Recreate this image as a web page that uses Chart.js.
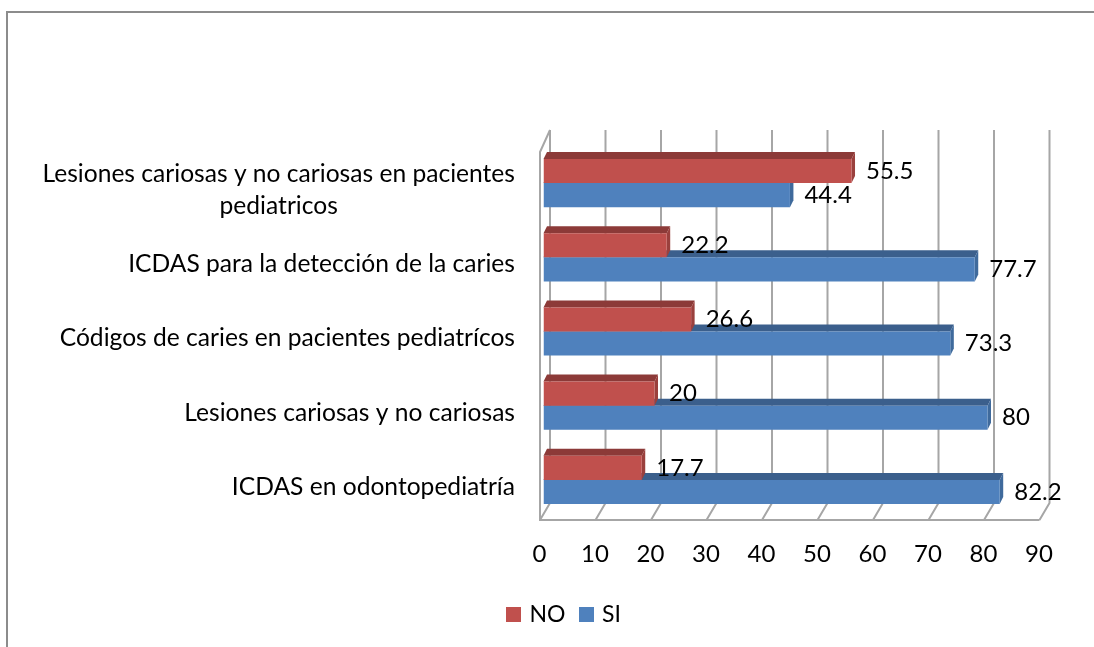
<!DOCTYPE html>
<html>
<head>
<meta charset="utf-8">
<script src="https://cdn.jsdelivr.net/npm/chart.js@4"></script>
<style>
  html, body { margin: 0; padding: 0; background: #fff; }
  #wrap { position: relative; width: 1094px; height: 647px; overflow: hidden; }
  #frame { position: absolute; left: 6px; top: 11px; right: 0; bottom: 0; border-left: 2px solid #8c8c8c; border-top: 2px solid #8c8c8c; }
  canvas { position: absolute; left: 0; top: 0; filter: blur(0.4px); }
</style>
</head>
<body>
<div id="wrap">
  <div id="frame"></div>
  <canvas id="chart" width="1094" height="647"></canvas>
</div>
<script>
const categories = [
  ["Lesiones cariosas y no cariosas en pacientes", "pediatricos"],
  "ICDAS para la detección de la caries",
  "Códigos de caries en pacientes pediatrícos",
  "Lesiones cariosas y no cariosas",
  "ICDAS en odontopediatría",
];
const noValues = [55.5, 22.2, 26.6, 20, 17.7];
const siValues = [44.4, 77.7, 73.3, 80, 82.2];

const FONT = "Lato";
const LABEL_SIZE = 24.6;
const VALUE_SIZE = 24;
const GRID = "#a6a6a6";
const RED = "#c0504d";
const BLUE = "#4f81bd";

// shifts used for the fake 3D box
const wall = { dx: 6.5, top: 130, floor: 503 };
const front = { dx: -3.5, top: 152, floor: 520 };
const bar3d = { dx: 3.5, dy: 7 };

const shades = [
  { top: "#8c3a38", side: "#9a403d" },
  { top: "#3b5f8c", side: "#3f6a9c" },
];

// legend square, drawn wider than its slot so the text sits close to it
const swatch = (color) => {
  const c = document.createElement("canvas");
  c.width = 15;
  c.height = 15;
  const g = c.getContext("2d");
  g.fillStyle = color;
  g.fillRect(0, 0, 15, 15);
  return c;
};

const box3d = {
  id: "box3d",
  beforeDatasetsDraw(chart) {
    const { ctx } = chart;
    const x = chart.scales.x;
    const x0 = x.getPixelForValue(0);
    const xEnd = x.getPixelForValue(90);
    ctx.save();
    ctx.strokeStyle = GRID;
    ctx.lineWidth = 2;
    x.ticks.forEach((t) => {
      const px = x.getPixelForValue(t.value);
      ctx.beginPath();
      ctx.moveTo(px + front.dx, front.floor);
      ctx.lineTo(px + wall.dx, wall.floor);
      ctx.lineTo(px + wall.dx, wall.top);
      ctx.stroke();
    });
    ctx.beginPath();
    ctx.moveTo(x0 + wall.dx, wall.top);
    ctx.lineTo(x0 + front.dx, front.top);
    ctx.lineTo(x0 + front.dx, front.floor);
    ctx.lineTo(xEnd + front.dx, front.floor);
    ctx.stroke();
    ctx.restore();
  },
  beforeDatasetDraw(chart, args) {
    const { ctx } = chart;
    const shade = shades[args.index];
    ctx.save();
    args.meta.data.forEach((bar) => {
      const top = bar.y - bar.height / 2;
      const bottom = bar.y + bar.height / 2;
      ctx.fillStyle = shade.top;
      ctx.beginPath();
      ctx.moveTo(bar.base, top);
      ctx.lineTo(bar.base + bar3d.dx, top - bar3d.dy);
      ctx.lineTo(bar.x + bar3d.dx, top - bar3d.dy);
      ctx.lineTo(bar.x, top);
      ctx.fill();
      ctx.fillStyle = shade.side;
      ctx.beginPath();
      ctx.moveTo(bar.x, top);
      ctx.lineTo(bar.x + bar3d.dx, top - bar3d.dy);
      ctx.lineTo(bar.x + bar3d.dx, bottom - bar3d.dy);
      ctx.lineTo(bar.x, bottom);
      ctx.fill();
    });
    ctx.restore();
  },
  afterDraw(chart) {
    const { ctx } = chart;
    const y = chart.scales.y;
    ctx.save();
    ctx.fillStyle = "#000";
    ctx.textBaseline = "middle";

    // category labels, wrapped lines centred under the first line
    ctx.font = LABEL_SIZE + "px " + FONT;
    ctx.textAlign = "center";
    categories.forEach((label, i) => {
      const lines = Array.isArray(label) ? label : [label];
      const py = y.getPixelForTick(i) + 7;
      const widest = Math.max(...lines.map((l) => ctx.measureText(l).width));
      lines.forEach((line, k) => {
        const ly = py + (k - (lines.length - 1) / 2) * 32;
        ctx.fillText(line, 515 - widest / 2, ly);
      });
    });

    // value labels
    ctx.font = VALUE_SIZE + "px " + FONT;
    ctx.textAlign = "left";
    chart.data.datasets.forEach((ds, d) => {
      chart.getDatasetMeta(d).data.forEach((bar, i) => {
        ctx.fillText(String(ds.data[i]), bar.x + 14.5, bar.y);
      });
    });
    ctx.restore();
  },
};

new Chart(document.getElementById("chart"), {
  type: "bar",
  plugins: [box3d],
  data: {
    labels: categories,
    datasets: [
      { label: "NO", data: noValues, backgroundColor: RED },
      { label: "SI", data: siValues, backgroundColor: BLUE },
    ],
  },
  options: {
    indexAxis: "y",
    responsive: false,
    animation: false,
    categoryPercentage: 0.65,
    barPercentage: 1,
    layout: { padding: { top: 146, left: 87, right: 51, bottom: 11 } },
    plugins: {
      tooltip: { enabled: false },
      legend: {
        position: "bottom",
        labels: {
          usePointStyle: true,
          pointStyleWidth: 9,
          boxHeight: 15,
          padding: 16,
          color: "#000",
          font: { family: FONT, size: 23 },
          generateLabels(chart) {
            const items = Chart.defaults.plugins.legend.labels.generateLabels(chart);
            items.forEach((item, i) => { item.pointStyle = swatch([RED, BLUE][i]); });
            return items;
          },
        },
      },
    },
    scales: {
      x: {
        min: 0,
        max: 90,
        grid: { display: false },
        border: { display: false },
        ticks: {
          stepSize: 10,
          padding: 15,
          labelOffset: -4,
          maxRotation: 0,
          color: "#000",
          font: { family: FONT, size: VALUE_SIZE },
        },
        afterFit(scale) { scale.height = 70; },
      },
      y: {
        grid: { display: false },
        border: { display: false },
        ticks: { display: false },
        afterFit(scale) { scale.width = 456.5; },
      },
    },
  },
});
</script>
</body>
</html>
